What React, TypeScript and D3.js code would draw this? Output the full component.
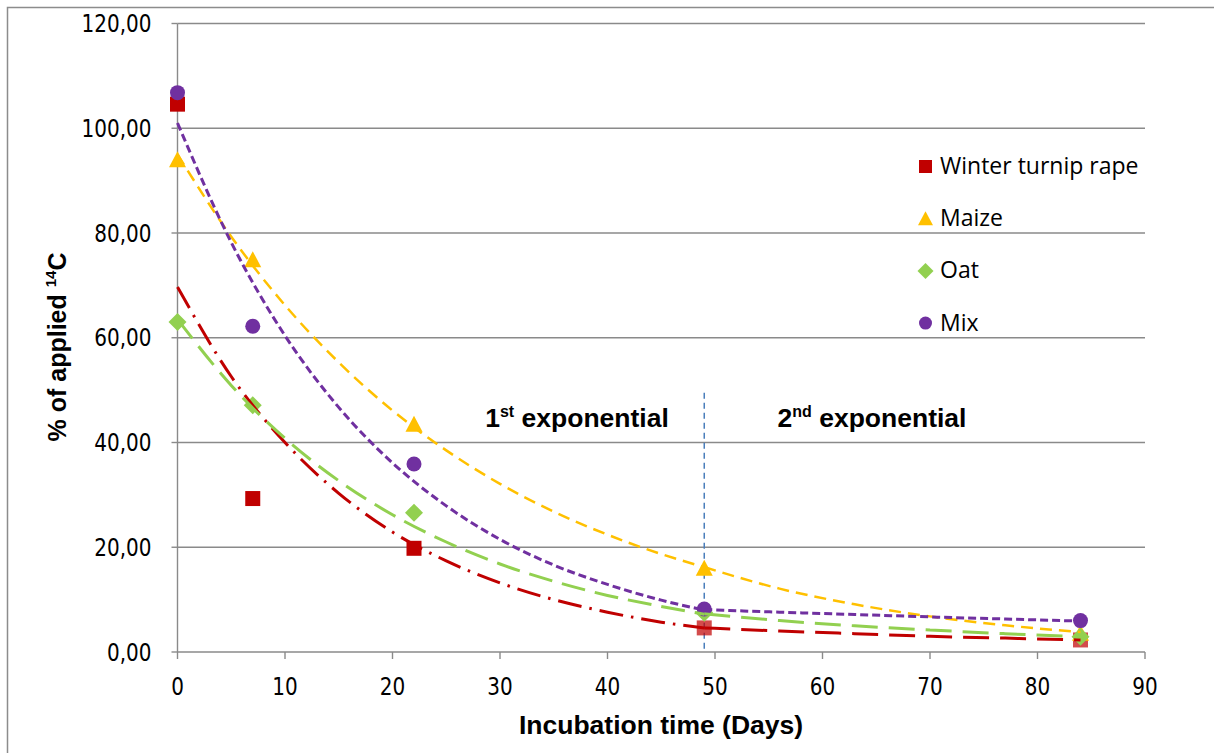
import React from "react";
import * as d3 from "d3";

const W = 1214;
const H = 753;

// Measured points
const days = [0, 7, 22, 49, 84];
const turnip = [104.6, 29.3, 19.8, 4.6, 2.3];
const maize = [94.0, 74.9, 43.5, 16.0, 3.6];
const oat = [63.0, 47.1, 26.6, 7.5, 2.9];
const mix = [106.8, 62.2, 35.9, 8.2, 6.0];

// Trend lines (1st and 2nd exponential)
const trendDays1 = [0, 5, 10, 15, 20, 25, 30, 35, 40, 45, 49];
const trendDays2 = [49, 56, 63, 70, 77, 84];
const turnipTrend1 = [69.7, 52.6, 40.0, 30.3, 22.9, 17.4, 13.2, 10.0, 7.6, 5.7, 4.6];
const turnipTrend2 = [4.6, 4.0, 3.5, 3.0, 2.65, 2.3];
const maizeTrend1 = [95.0, 79.3, 66.2, 55.3, 46.1, 38.5, 32.1, 26.8, 22.4, 18.7, 16.2];
const maizeTrend2 = [16.2, 12.1, 9.1, 6.8, 5.1, 3.8];
const oatTrend1 = [63.5, 50.9, 40.8, 32.7, 26.2, 21.0, 16.8, 13.5, 10.8, 8.7, 7.2];
const oatTrend2 = [7.3, 6.0, 5.0, 4.2, 3.5, 2.9];
const mixTrend1 = [101.0, 78.2, 60.4, 46.7, 36.1, 27.9, 21.5, 16.6, 12.9, 9.9, 8.0];
const mixTrend2 = [8.1, 7.6, 7.15, 6.7, 6.3, 5.9];

const xTicks = [0, 10, 20, 30, 40, 50, 60, 70, 80, 90];
const yTicks = [0, 20, 40, 60, 80, 100, 120];
const splitDay = 49;
const splitTop = 49.5;

const seriesNames = ["Winter turnip rape", "Maize", "Oat", "Mix"];

const x = d3.scaleLinear().domain([0, 90]).range([177.5, 1145]);
const y = d3.scaleLinear().domain([0, 120]).range([652, 23.5]);

const gridColor = "#8a8a8a";
const tickFont = "'DejaVu Sans', Verdana, sans-serif";
const boldFont = "'Liberation Sans', Arial, sans-serif";

type Shape = "square" | "triangle" | "diamond" | "circle";

function Marker({ cx, cy, shape, color, size, opacity = 1 }: { cx: number; cy: number; shape: Shape; color: string; size: number; opacity?: number }) {
  const h = size / 2;
  if (shape === "square") return <rect x={cx - h} y={cy - h} width={size} height={size} fill={color} opacity={opacity} />;
  if (shape === "circle") return <circle cx={cx} cy={cy} r={h} fill={color} opacity={opacity} />;
  if (shape === "diamond") {
    const d = h + 1.5;
    return <path d={`M${cx},${cy - d} L${cx + d},${cy} L${cx},${cy + d} L${cx - d},${cy} Z`} fill={color} opacity={opacity} />;
  }
  return <path d={`M${cx},${cy - h - 1} L${cx + h + 1},${cy + h} L${cx - h - 1},${cy + h} Z`} fill={color} opacity={opacity} />;
}

const line = d3
  .line<[number, number]>()
  .x((d) => x(d[0]))
  .y((d) => y(d[1]))
  .curve(d3.curveMonotoneX);

const zip = (a: number[], b: number[]) => a.map((v, i) => [v, b[i]] as [number, number]);

export default function App() {
  const series = [
    { name: seriesNames[0], vals: turnip, color: "#C00000", shape: "square" as Shape },
    { name: seriesNames[1], vals: maize, color: "#FFC000", shape: "triangle" as Shape },
    { name: seriesNames[2], vals: oat, color: "#92D050", shape: "diamond" as Shape },
    { name: seriesNames[3], vals: mix, color: "#7030A0", shape: "circle" as Shape },
  ];

  const trends = [
    { d: zip(trendDays1, turnipTrend1), color: "#C00000", w: 3, dash: "24,8,2.5,8" },
    { d: zip(trendDays2, turnipTrend2), color: "#C00000", w: 3, dash: "26,11" },
    { d: zip(trendDays1, oatTrend1), color: "#92D050", w: 3, dash: "24,10" },
    { d: zip(trendDays2, oatTrend2), color: "#92D050", w: 3, dash: "26,11" },
    { d: zip(trendDays1, maizeTrend1), color: "#FFC000", w: 2.5, dash: "12,7" },
    { d: zip(trendDays2, maizeTrend2), color: "#FFC000", w: 2.5, dash: "12,7" },
    { d: zip(trendDays1, mixTrend1), color: "#7030A0", w: 3, dash: "8,4" },
    { d: zip(trendDays2, mixTrend2), color: "#7030A0", w: 3, dash: "8,4" },
  ];

  return (
    <svg width={W} height={H} style={{ position: "absolute", left: 0, top: 0, background: "#fff" }}>
      {/* outer border */}
      <path d={`M7.5,${H} V7.5 H${W}`} fill="none" stroke="#8c8c8c" strokeWidth={1.5} />

      {/* gridlines */}
      {yTicks.filter((t) => t > 0).map((t) => (
        <line key={t} x1={x(0)} x2={x(90)} y1={y(t)} y2={y(t)} stroke={gridColor} strokeWidth={1.4} />
      ))}

      {/* axes */}
      <line x1={x(0)} x2={x(0)} y1={y(120)} y2={y(0)} stroke={gridColor} strokeWidth={1.4} />
      <line x1={x(0)} x2={x(90)} y1={y(0)} y2={y(0)} stroke={gridColor} strokeWidth={1.4} />
      {yTicks.map((t) => (
        <g key={"yt" + t}>
          <line x1={x(0) - 6} x2={x(0)} y1={y(t)} y2={y(t)} stroke={gridColor} strokeWidth={1.4} />
          <text
            transform={`translate(${x(0) - 26},${y(t) + 8.5}) scale(1,1.2)`}
            textAnchor="end"
            fontFamily={tickFont}
            fontSize={20}
            fill="#000"
          >
            {t.toFixed(2).replace(".", ",")}
          </text>
        </g>
      ))}
      {xTicks.map((t) => (
        <g key={"xt" + t}>
          <line x1={x(t)} x2={x(t)} y1={y(0)} y2={y(0) + 7} stroke={gridColor} strokeWidth={1.4} />
          <text
            transform={`translate(${x(t)},${695}) scale(1,1.2)`}
            textAnchor="middle"
            fontFamily={tickFont}
            fontSize={20}
            fill="#000"
          >
            {t}
          </text>
        </g>
      ))}

      {/* split line */}
      <line
        x1={x(splitDay)}
        x2={x(splitDay)}
        y1={y(splitTop)}
        y2={y(0)}
        stroke="#4A7EBB"
        strokeWidth={1.5}
        strokeDasharray="6,4"
      />

      {/* markers */}
      {series.map((s) =>
        s.vals.map((v, i) => (
          <Marker
            key={s.name + i}
            cx={x(days[i])}
            cy={y(v)}
            shape={s.shape}
            color={s.color}
            size={15}
            opacity={s.shape === "square" && days[i] >= splitDay ? 0.7 : 1}
          />
        ))
      )}

      {/* trend lines */}
      {trends.map((t, i) => (
        <path key={"tr" + i} d={line(t.d) || ""} fill="none" stroke={t.color} strokeWidth={t.w} strokeDasharray={t.dash} />
      ))}

      {/* phase labels */}
      <text x={577} y={427} textAnchor="middle" fontFamily={boldFont} fontWeight="bold" fontSize={26.5}>
        1<tspan fontSize={16} dy={-10}>st</tspan>
        <tspan dy={10}> exponential</tspan>
      </text>
      <text x={872} y={427} textAnchor="middle" fontFamily={boldFont} fontWeight="bold" fontSize={26.5}>
        2<tspan fontSize={16} dy={-10}>nd</tspan>
        <tspan dy={10}> exponential</tspan>
      </text>

      {/* legend */}
      {series.map((s, i) => (
        <g key={"lg" + i}>
          <Marker cx={925.5} cy={166.5 + i * 52.2} shape={s.shape} color={s.color} size={13} />
          <text x={940} y={174 + i * 52.2} fontFamily="'Open Sans', sans-serif" fontSize={23} fill="#000">
            {s.name}
          </text>
        </g>
      ))}

      {/* axis titles */}
      <text x={661} y={734} textAnchor="middle" fontFamily={boldFont} fontWeight="bold" fontSize={26.5}>
        Incubation time (Days)
      </text>
      <text
        transform={`translate(66,347) rotate(-90)`}
        textAnchor="middle"
        fontFamily={boldFont}
        fontWeight="bold"
        fontSize={25}
      >
        % of applied <tspan fontSize={15} dy={-10}>14</tspan>
        <tspan dy={10}>C</tspan>
      </text>
    </svg>
  );
}
